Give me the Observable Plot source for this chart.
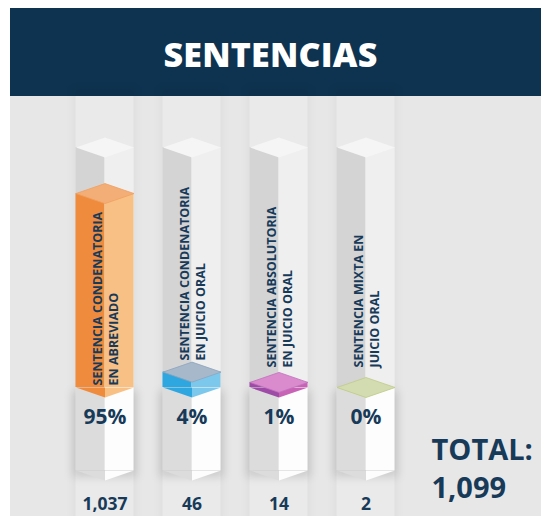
<!DOCTYPE html>
<html>
<head>
<meta charset="utf-8">
<script src="https://cdn.jsdelivr.net/npm/d3@7"></script>
<script src="https://cdn.jsdelivr.net/npm/@observablehq/plot@0.6"></script>
<style>
  html, body { margin: 0; padding: 0; background: #ffffff; }
  #wrap { position: relative; width: 541px; height: 516px; overflow: hidden; }
  #header { position: absolute; left: 10px; top: 8px; width: 531px; height: 88px; background: #0e3350;
    color: #ffffff; font-family: "Open Sans", sans-serif; font-weight: 800; font-size: 34px;
    display: flex; align-items: center; justify-content: center; box-sizing: border-box; padding: 4px 10px 0 0; letter-spacing: 0.2px; }
  #chart { position: absolute; left: 10px; top: 96px; }
  .shadow { filter: blur(4px); }
  .stripshadow { filter: blur(3px); }
</style>
</head>
<body>
<div id="wrap">
  <div id="header"></div>
  <div id="chart"></div>
</div>
<script>
// ---- data ----
const title = "SENTENCIAS";
const categories = [
  "SENTENCIA CONDENATORIA\nEN ABREVIADO",
  "SENTENCIA CONDENATORIA\nEN JUICIO ORAL",
  "SENTENCIA ABSOLUTORIA\nEN JUICIO ORAL",
  "SENTENCIA MIXTA EN\nJUICIO ORAL"
];
const percents = [95, 4, 1, 0];
const counts = [1037, 46, 14, 2];
const totalLabel = "TOTAL:";
const totalCount = 1099;

// ---- styles ----
const leftColors  = ["#ef8b3d", "#2ea7e0", "#9d4ba7", "#c5d08f"];
const rightColors = ["#f8c084", "#7cc8ec", "#c862b5", "#dfe5c4"];
const topColors   = ["#f3ae78", "#a7b8cb", "#d98bcd", "#d3dbb1"];
const edgeColors  = ["#f0a060", "#8ea3bb", "#c070bb", "#bfcc86"];
const labelDy = [-2, -27, -20, -20];
const navy = "#173a59";
const yTop = 124;           // scale top (column height)
const inL = 14.5, inMid = 43.5; // face insets within 87px band
const half = 29, tilt = 10 / 29;

document.getElementById("header").textContent = title;

const rows = categories.map((c, i) => ({c, p: percents[i], n: counts[i], i}));
const fmt = d3.format(",");

// custom isometric symbols
const rr = (size) => Math.sqrt(size / Math.PI);
const topDiamond = {draw(ctx, size) { const r = rr(size), h = r * tilt;
  ctx.moveTo(-r, 0); ctx.lineTo(0, -h); ctx.lineTo(r, 0); ctx.lineTo(0, h); ctx.closePath(); }};
const vLeft = {draw(ctx, size) { const r = rr(size), h = r * tilt;
  ctx.moveTo(-r, 0); ctx.lineTo(0, 0); ctx.lineTo(0, h); ctx.closePath(); }};
const vRight = {draw(ctx, size) { const r = rr(size), h = r * tilt;
  ctx.moveTo(0, 0); ctx.lineTo(r, 0); ctx.lineTo(0, h); ctx.closePath(); }};

const marks = [
  // background strips with soft edges
  Plot.barY(rows, {x: "c", y1: 0, y2: yTop, insetLeft: inL - 3, insetRight: inL - 3, insetTop: -60, insetBottom: -140, fill: "#000000", fillOpacity: 0.035, className: "stripshadow"}),
  Plot.barY(rows, {x: "c", y1: 0, y2: yTop, insetLeft: inL, insetRight: inL, insetTop: -51, insetBottom: -129, fill: "#eaeaea"}),
  // outer translucent column
  Plot.barY(rows, {x: "c", y1: 0, y2: yTop, insetLeft: inL, insetRight: inMid, fill: "#d4d4d4"}),
  Plot.barY(rows, {x: "c", y1: 0, y2: yTop, insetLeft: inMid, insetRight: inL, fill: "#efefef"}),
  Plot.dot(rows, {x: "c", y: yTop, r: half, symbol: topDiamond, fill: "#f5f5f5", stroke: "none"}),
  // shadow of white box
  Plot.barY(rows, {x: "c", y1: 0, y2: 0, insetLeft: inL - 3, insetRight: inL - 3, insetTop: 4, insetBottom: -90, fill: "#000000", fillOpacity: 0.13, className: "shadow"}),
  // white box
  Plot.barY(rows, {x: "c", y1: 0, y2: 0, insetLeft: inL, insetRight: inMid, insetBottom: -83, fill: "#dcdcdc"}),
  Plot.barY(rows, {x: "c", y1: 0, y2: 0, insetLeft: inMid, insetRight: inL, insetBottom: -83, fill: "#fdfdfd"}),
  Plot.dot(rows, {x: "c", y: 0, dy: 83, r: half, symbol: vLeft, fill: "#dcdcdc", stroke: "none"}),
  Plot.dot(rows, {x: "c", y: 0, dy: 83, r: half, symbol: vRight, fill: "#fdfdfd", stroke: "none"}),
  // value fill prism
  Plot.dot(rows, {x: "c", y: 0, r: half, symbol: vLeft, fill: d => leftColors[d.i], stroke: "none"}),
  Plot.dot(rows, {x: "c", y: 0, r: half, symbol: vRight, fill: d => rightColors[d.i], stroke: "none"}),
  Plot.barY(rows, {x: "c", y1: 0, y2: "p", insetLeft: inL, insetRight: inMid, fill: d => leftColors[d.i]}),
  Plot.barY(rows, {x: "c", y1: 0, y2: "p", insetLeft: inMid, insetRight: inL, fill: d => rightColors[d.i]}),
  Plot.dot(rows, {x: "c", y: "p", r: half, symbol: topDiamond, fill: d => topColors[d.i], stroke: d => edgeColors[d.i], strokeWidth: 0.8}),
  // rotated category labels
  ...rows.map(r => Plot.text([r], {x: "c", y: 0, dy: labelDy[r.i], text: "c", rotate: -90, textAnchor: "start",
    lineAnchor: "middle", lineHeight: 1.25, fontSize: 12.5, fontWeight: 700, fill: navy})),
  // percent labels
  Plot.text(rows, {x: "c", y: 0, dy: 36, text: d => d.p + "%", lineAnchor: "bottom", fontSize: 21, fontWeight: 700, fill: navy}),
  // count labels
  Plot.text(rows, {x: "c", y: 0, dy: 122, text: d => fmt(d.n), lineAnchor: "bottom", fontSize: 17.5, fontWeight: 700, fill: navy}),
  // total
  Plot.text([totalCount], {frameAnchor: "bottom-right", dx: 22.5, dy: 110, text: d => totalLabel + "\n" + fmt(d),
    textAnchor: "start", lineAnchor: "bottom", lineHeight: 1.28, fontSize: 29, fontWeight: 700, fill: navy})
];

const chart = Plot.plot({
  width: 531,
  height: 420,
  marginLeft: 50.5,
  marginRight: 132.5,
  marginTop: 51,
  marginBottom: 129,
  style: {background: "#e7e7e7", fontFamily: "'Open Sans', sans-serif", overflow: "visible"},
  x: {type: "band", domain: categories, padding: 0, axis: null},
  y: {type: "pow", exponent: 0.8, domain: [0, yTop], axis: null},
  color: {type: "identity"},
  marks
});
document.getElementById("chart").appendChild(chart);
</script>
</body>
</html>
